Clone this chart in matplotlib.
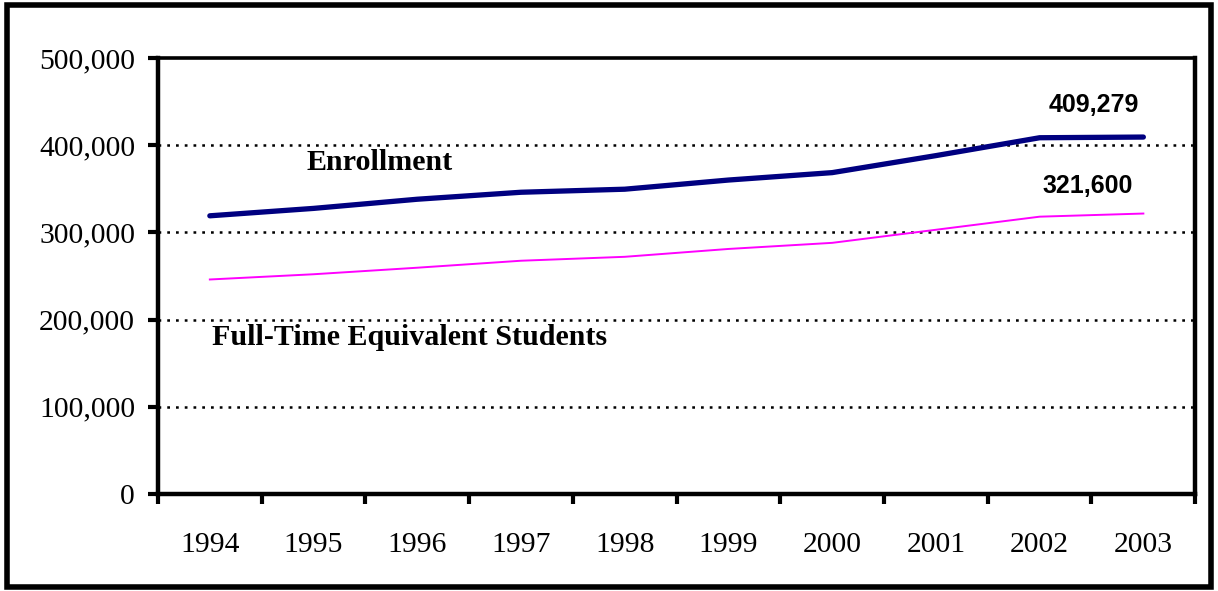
import numpy as np
from matplotlib import pyplot as plt
from matplotlib.patches import Rectangle
from matplotlib.ticker import FuncFormatter

# data
years = ['1994', '1995', '1996', '1997', '1998', '1999', '2000', '2001', '2002', '2003']
enrollment = [319000, 327500, 338000, 346000, 349500, 360000, 368500, 388000, 408500, 409279]
fte = [246000, 252000, 259500, 267500, 272000, 281000, 288000, 303000, 318000, 321600]
yticks = [0, 100000, 200000, 300000, 400000, 500000]

serif = 'Liberation Serif'
sans = 'Liberation Sans'

fig = plt.figure(figsize=(12.18, 5.91), dpi=100)
ax = fig.add_axes([0.1297, 0.164, 0.8516, 0.738])

x = np.arange(len(years)) + 0.5
ax.plot(x, enrollment, color='#000080', lw=3.8, solid_capstyle='round', zorder=3)
ax.plot(x, fte, color='#FF00FF', lw=1.4, zorder=3)

ax.set_xlim(0, len(years))
ax.set_ylim(0, 500000)

# gridlines
for v in yticks[1:-1]:
    ax.axhline(v, color='black', lw=1.8, ls=(0, (1.1, 2.4)), zorder=1)

# x ticks at boundaries, labels centred between
ax.set_xticks(np.arange(len(years) + 1))
ax.set_xticklabels([])
ax.set_xticks(x, minor=True)
ax.set_xticklabels(years, minor=True, fontfamily=serif, fontsize=21.3)
ax.tick_params(axis='x', which='major', direction='out', length=7.5, width=3)
ax.tick_params(axis='x', which='minor', length=0, pad=27)

ax.set_yticks(yticks)
ax.yaxis.set_major_formatter(FuncFormatter(lambda v, p: f'{int(v):,}'))
for lab in ax.get_yticklabels():
    lab.set_fontfamily(serif)
    lab.set_fontsize(21.3)
ax.tick_params(axis='y', direction='out', length=7.5, width=3, pad=9)

for side in ['left', 'bottom', 'right']:
    ax.spines[side].set_linewidth(3.2)
ax.spines['top'].set_linewidth(2.6)

ax.text(2.14, 380000, 'Enrollment', fontfamily=serif, fontweight='bold',
        fontsize=21.6, ha='center', va='center')
ax.text(2.43, 179000, 'Full-Time Equivalent Students', fontfamily=serif,
        fontweight='bold', fontsize=21.6, ha='center', va='center')
ax.text(9.02, 446000, f'{enrollment[-1]:,}', fontfamily=sans, fontweight='bold',
        fontsize=18, ha='center', va='center')
ax.text(8.96, 353000, f'{fte[-1]:,}', fontfamily=sans, fontweight='bold',
        fontsize=18, ha='center', va='center')

# outer frame
fig.patches.append(Rectangle((0.006, 0.006), 0.988, 0.985, transform=fig.transFigure,
                             fill=False, edgecolor='black', lw=4))

fig.savefig('out.png', dpi=100)
